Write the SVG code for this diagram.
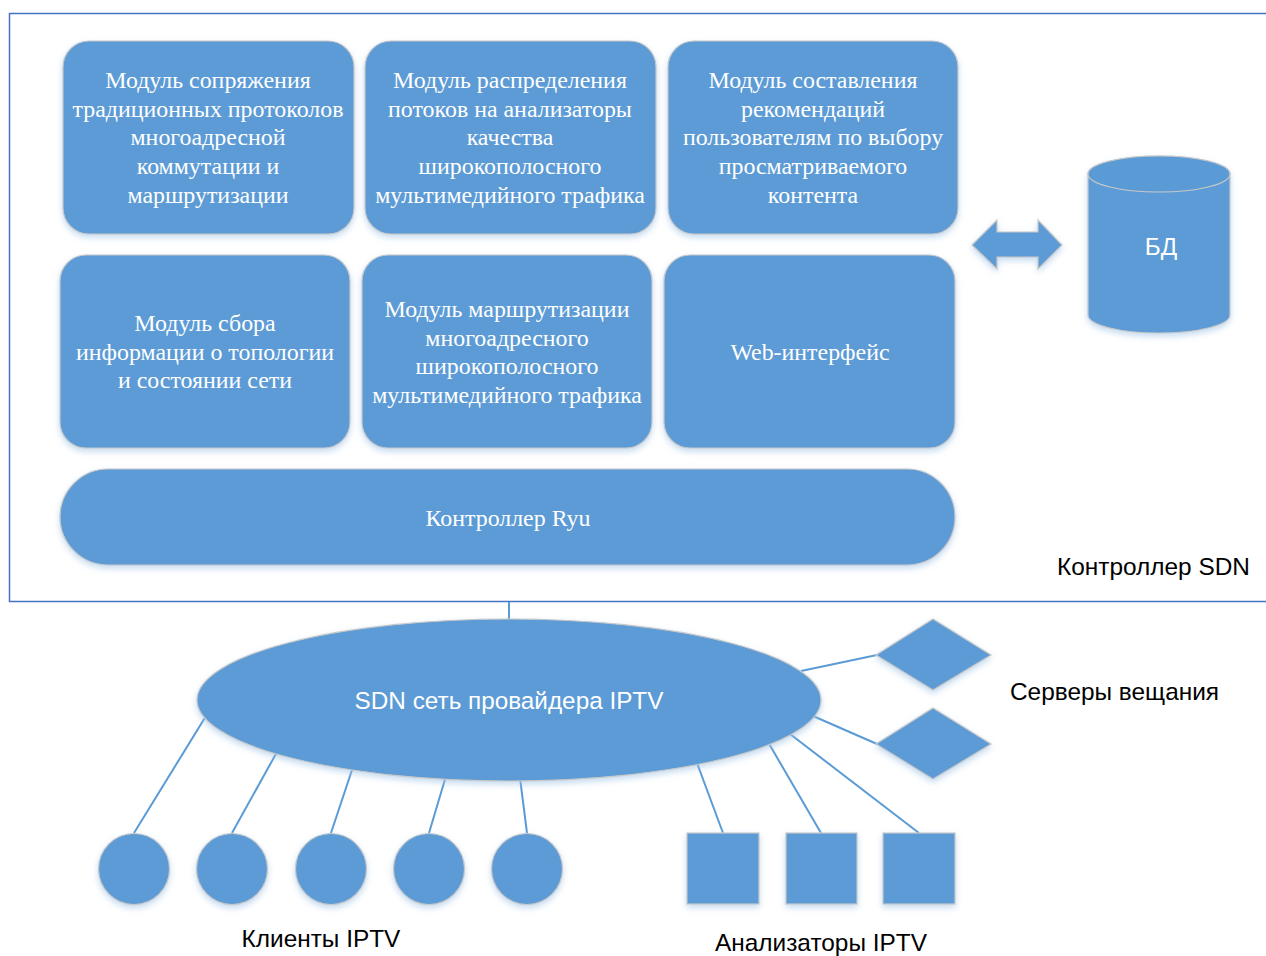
<svg xmlns="http://www.w3.org/2000/svg" width="1266" height="956" viewBox="0 0 1266 956">
<style>
.sh{fill:#5B9BD5;stroke:#C8C8C8;stroke-width:1.2;filter:url(#ds)}
.t{font-family:"Liberation Serif","Times New Roman",serif;font-size:23.9px;fill:#FFFFFF;text-anchor:middle}
.s{font-family:"Liberation Sans",Arial,sans-serif;font-size:24.4px;fill:#000000}
.sw{font-family:"Liberation Sans",Arial,sans-serif;font-size:24.3px;fill:#FFFFFF;text-anchor:middle}
.ln{stroke:#5B9BD5;stroke-width:2;fill:none}
</style>
<defs>
<filter id="ds" x="-10%" y="-10%" width="120%" height="130%">
<feDropShadow dx="0" dy="3" stdDeviation="3" flood-color="#9DC3E6" flood-opacity="0.6"/>
</filter>
</defs>
<rect x="0" y="0" width="1266" height="956" fill="#FFFFFF"/>
<g id="frame">
<rect x="9.5" y="13.5" width="1270" height="588" fill="none" stroke="#4472C4" stroke-width="1.5"/>
<text class="s" x="1057" y="575">Контроллер SDN</text>
</g>
<g id="connectors">
<line class="ln" x1="509" y1="602" x2="509" y2="620"/>
<line class="ln" x1="801" y1="671" x2="877" y2="655"/>
<line class="ln" x1="813" y1="716" x2="877" y2="744"/>
<line class="ln" x1="134" y1="833" x2="206" y2="716"/>
<line class="ln" x1="232" y1="833" x2="277" y2="752"/>
<line class="ln" x1="331" y1="833" x2="353" y2="767"/>
<line class="ln" x1="429" y1="833" x2="446" y2="776"/>
<line class="ln" x1="527" y1="833" x2="520" y2="778"/>
<line class="ln" x1="723" y1="833" x2="697" y2="763"/>
<line class="ln" x1="821" y1="833" x2="768" y2="742"/>
<line class="ln" x1="919" y1="833" x2="790" y2="734"/>
</g>
<g id="m1">
<rect class="sh" x="63" y="41" width="291" height="193" rx="26"/>
<text class="t" x="208"><tspan x="208" y="88">Модуль сопряжения</tspan><tspan x="208" y="117">традиционных протоколов</tspan><tspan x="208" y="145">многоадресной</tspan><tspan x="208" y="174">коммутации и</tspan><tspan x="208" y="203">маршрутизации</tspan></text>
</g>
<g id="m2">
<rect class="sh" x="365" y="41" width="291" height="193" rx="26"/>
<text class="t" x="510"><tspan x="510" y="88">Модуль распределения</tspan><tspan x="510" y="117">потоков на анализаторы</tspan><tspan x="510" y="145">качества</tspan><tspan x="510" y="174">широкополосного</tspan><tspan x="510" y="203">мультимедийного трафика</tspan></text>
</g>
<g id="m3">
<rect class="sh" x="668" y="41" width="290" height="193" rx="26"/>
<text class="t" x="813"><tspan x="813" y="88">Модуль составления</tspan><tspan x="813" y="117">рекомендаций</tspan><tspan x="813" y="145">пользователям по выбору</tspan><tspan x="813" y="174">просматриваемого</tspan><tspan x="813" y="203">контента</tspan></text>
</g>
<g id="m4">
<rect class="sh" x="60" y="255" width="290" height="193" rx="26"/>
<text class="t" x="205"><tspan x="205" y="331">Модуль сбора</tspan><tspan x="205" y="360">информации о топологии</tspan><tspan x="205" y="388">и состоянии сети</tspan></text>
</g>
<g id="m5">
<rect class="sh" x="362" y="255" width="290" height="193" rx="26"/>
<text class="t" x="507"><tspan x="507" y="317">Модуль маршрутизации</tspan><tspan x="507" y="346">многоадресного</tspan><tspan x="507" y="374">широкополосного</tspan><tspan x="507" y="403">мультимедийного трафика</tspan></text>
</g>
<g id="m6">
<rect class="sh" x="664" y="255" width="291" height="193" rx="26"/>
<text class="t" x="810" y="360">Web-интерфейс</text>
</g>
<g id="ryu">
<rect class="sh" x="60" y="469" width="895" height="96" rx="48"/>
<text class="t" x="508" y="526">Контроллер Ryu</text>
</g>
<g id="arrow">
<polygon class="sh" points="972,245 997,220 997,232 1038,232 1038,220 1062,245 1038,269 1038,257 997,257 997,269"/>
</g>
<g id="db">
<path class="sh" d="M1088,174 A71,18 0 0 1 1230,174 L1230,315 A71,18 0 0 1 1088,315 Z"/>
<ellipse cx="1159" cy="174" rx="71" ry="18" fill="#5B9BD5" stroke="#C8C8C8" stroke-width="1.2"/>
<text class="sw" x="1161" y="255">БД</text>
</g>
<g id="net">
<ellipse class="sh" cx="509" cy="700" rx="312" ry="81"/>
<text class="sw" x="509" y="709">SDN сеть провайдера IPTV</text>
</g>
<g id="srv1"><polygon class="sh" points="876,655 933,619 991,655 933,690"/></g>
<g id="srv2"><polygon class="sh" points="876,744 933,708 991,744 933,779"/></g>
<g id="srvlabel"><text class="s" x="1010" y="700">Серверы вещания</text></g>
<g id="c1"><circle class="sh" cx="134" cy="869" r="35.5"/></g>
<g id="c2"><circle class="sh" cx="232" cy="869" r="35.5"/></g>
<g id="c3"><circle class="sh" cx="331" cy="869" r="35.5"/></g>
<g id="c4"><circle class="sh" cx="429" cy="869" r="35.5"/></g>
<g id="c5"><circle class="sh" cx="527" cy="869" r="35.5"/></g>
<g id="clabel"><text class="s" x="321" y="947" text-anchor="middle">Клиенты IPTV</text></g>
<g id="a1"><rect class="sh" x="687" y="833" width="72" height="71"/></g>
<g id="a2"><rect class="sh" x="786" y="833" width="71" height="71"/></g>
<g id="a3"><rect class="sh" x="883" y="833" width="72" height="71"/></g>
<g id="alabel"><text class="s" x="821" y="951" text-anchor="middle">Анализаторы IPTV</text></g>
</svg>
